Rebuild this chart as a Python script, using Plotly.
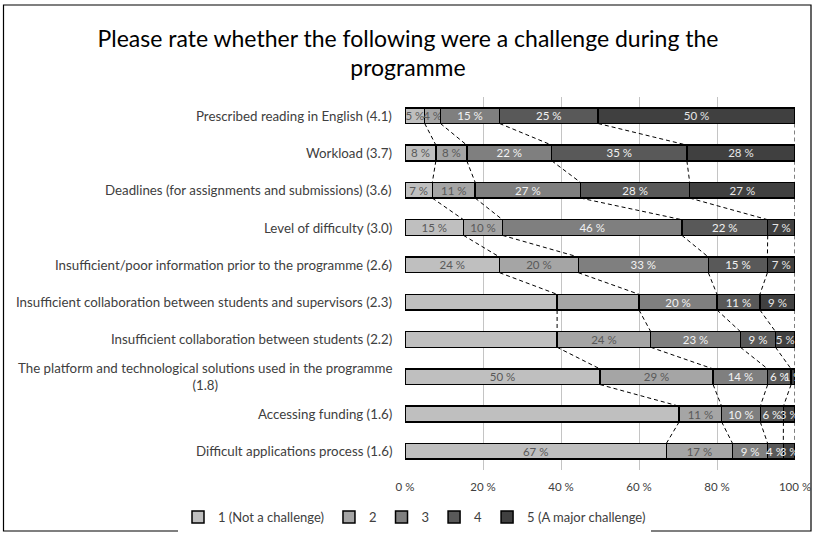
import plotly.graph_objects as go

categories = [
    "Prescribed reading in English (4.1)",
    "Workload (3.7)",
    "Deadlines (for assignments and submissions) (3.6)",
    "Level of difficulty (3.0)",
    "Insufficient/poor information prior to the programme (2.6)",
    "Insufficient collaboration between students and supervisors (2.3)",
    "Insufficient collaboration between students (2.2)",
    "The platform and technological solutions used in the programme<br>(1.8)",
    "Accessing funding (1.6)",
    "Difficult applications process (1.6)",
]
level_names = ["1 (Not a challenge)", "2", "3", "4", "5 (A major challenge)"]
s1 = [5, 8, 7, 15, 24, 39, 39, 50, 71, 67]
s2 = [4, 8, 11, 10, 20, 21, 24, 29, 11, 17]
s3 = [15, 22, 27, 46, 33, 20, 23, 14, 10, 9]
s4 = [25, 35, 28, 22, 15, 11, 9, 6, 6, 4]
s5 = [50, 28, 27, 7, 7, 9, 5, 1, 3, 3]
series = [s1, s2, s3, s4, s5]
# (row, series) pairs whose data label is not shown in the original
hidden_labels = {(5, 0), (5, 1), (6, 0), (8, 0)}
x_ticks = [0, 20, 40, 60, 80, 100]

fill_colors = ["#bfbfbf", "#a5a5a5", "#7f7f7f", "#595959", "#404040"]
text_colors = ["#595959", "#595959", "#f2f2f2", "#f2f2f2", "#e6e6e6"]
FONT = "Lato"
BAR_W = 0.42

n = len(categories)
ypos = list(range(n))
totals = [sum(s[i] for s in series) for i in range(n)]

fig = go.Figure()
for k, (name, vals) in enumerate(zip(level_names, series)):
    texts = ["" if (i, k) in hidden_labels else f"{v} %" for i, v in enumerate(vals)]
    fig.add_trace(go.Bar(
        y=ypos, x=vals, name=name, orientation="h", width=BAR_W,
        marker=dict(color=fill_colors[k], line=dict(color="#000000", width=1.5)),
        text=texts, textposition="inside", insidetextanchor="middle",
        textangle=0, constraintext="none",
        textfont=dict(family=FONT, size=11.5, color=text_colors[k]),
        hoverinfo="x+name",
    ))

# series lines (dashed connectors between stacked boundaries of adjacent bars)
lx, ly = [], []
for i in range(n - 1):
    cum_a = cum_b = 0.0
    for k in range(len(series)):
        cum_a += series[k][i] / totals[i] * 100
        cum_b += series[k][i + 1] / totals[i + 1] * 100
        lx += [cum_a, cum_b, None]
        ly += [i + BAR_W / 2, i + 1 - BAR_W / 2, None]
fig.add_trace(go.Scatter(
    x=lx, y=ly, mode="lines", showlegend=False, hoverinfo="skip",
    line=dict(color="#000000", width=1, dash="4px,3px"),
))

# category labels
for i, c in enumerate(categories):
    fig.add_annotation(
        x=0, y=i, xref="x", yref="y", text=c, showarrow=False,
        xanchor="right", yanchor="middle", align="center", xshift=-11,
        font=dict(family=FONT, size=13.3, color="#404040"),
    )

L, R, T, B = 405, 795, 97, 470
W, H = 816, 535
def px_x(p):
    return (p - L) / (R - L)
def px_y(p):
    return (B - p) / (B - T)

fig.add_shape(type="rect", xref="paper", yref="paper",
              x0=px_x(3.5), x1=px_x(811), y0=px_y(5), y1=px_y(531),
              line=dict(color="#000000", width=1.2), layer="below")

fig.update_layout(
    width=W, height=H,
    margin=dict(l=L, r=W - R, t=T, b=H - B, autoexpand=False),
    barmode="stack", barnorm="percent",
    paper_bgcolor="#ffffff", plot_bgcolor="#ffffff",
    title=dict(
        text="Please rate whether the following were a challenge during the<br>programme",
        xref="container", x=408 / W, xanchor="center",
        yref="container", y=1 - 46.5 / H, yanchor="middle",
        font=dict(family=FONT, size=23, color="#000000"),
    ),
    xaxis=dict(
        range=[0, 100], tickvals=x_ticks, ticktext=[f"{t} %" for t in x_ticks],
        showgrid=True, gridcolor="#c4c4c4", gridwidth=1, zeroline=False,
        showline=False, ticks="", fixedrange=True, ticklabelstandoff=8,
        tickfont=dict(family=FONT, size=11.5, color="#404040"),
    ),
    yaxis=dict(
        range=[n - 0.5, -0.5], showticklabels=False, showgrid=False,
        zeroline=False, showline=False, ticks="", fixedrange=True,
    ),
    uniformtext=dict(minsize=11.5, mode="show"),
    showlegend=True,
    legend=dict(
        orientation="h", xref="paper", x=px_x(178), xanchor="left",
        yref="paper", y=px_y(517), yanchor="middle",
        font=dict(family=FONT, size=13, color="#404040"), itemwidth=30,
        traceorder="normal",
    ),
)

fig.write_html("out.html", config={"displayModeBar": False},
               post_script="document.body.style.margin='0';")
